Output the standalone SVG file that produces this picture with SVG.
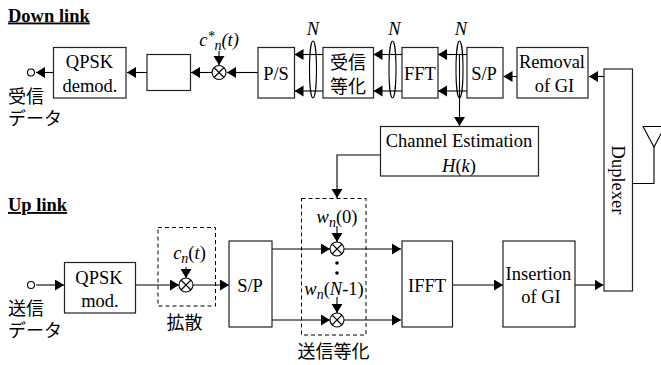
<svg xmlns="http://www.w3.org/2000/svg" width="661" height="365" viewBox="0 0 661 365">
<style>
text{font-family:"Liberation Serif","Noto Sans CJK JP",serif;font-size:18.5px;fill:#000;text-anchor:middle}
.j{font-size:18px}
.i{font-style:italic}
.s{font-size:14px}
.h{font-weight:bold;text-anchor:start;text-decoration:underline}
.b{fill:#fff;stroke:#222;stroke-width:1.2}
.l{fill:none;stroke:#000;stroke-width:1.1}
.d{fill:none;stroke:#000;stroke-width:1;stroke-dasharray:4 3}
.m{fill:#fff;stroke:#000;stroke-width:1.1}
</style>
<defs>
<marker id="a" markerUnits="userSpaceOnUse" markerWidth="10" markerHeight="12" refX="9" refY="5.5" orient="auto"><path d="M0 0L9 5.5L0 11Z" fill="#000"/></marker>
<g id="x"><circle r="7" class="m"/><path d="M-5 -5L5 5M-5 5L5 -5" class="l"/></g>
</defs>
<rect width="661" height="365" fill="#fff"/>
<text class="h" x="8" y="21.500">Down link</text>
<text class="h" x="8" y="211">Up link</text>
<g id="connectors">
<path class="l" d="M53.500 72.500H36" marker-end="url(#a)"/>
<path class="l" d="M147 72.500H127" marker-end="url(#a)"/>
<path class="l" d="M212 72.500H191" marker-end="url(#a)"/>
<path class="l" d="M258 72.500H227" marker-end="url(#a)"/>
<path class="l" d="M219 51V65" marker-end="url(#a)"/>
<path class="l" d="M323 54.500H294.500" marker-end="url(#a)"/>
<path class="l" d="M323 91H294.500" marker-end="url(#a)"/>
<path class="l" d="M402 54.500H373.500" marker-end="url(#a)"/>
<path class="l" d="M402 91H373.500" marker-end="url(#a)"/>
<path class="l" d="M467 54.500H438" marker-end="url(#a)"/>
<path class="l" d="M467 91H438" marker-end="url(#a)"/>
<path class="l" d="M517 76.500H503.500" marker-end="url(#a)"/>
<path class="l" d="M604 76.500H589" marker-end="url(#a)"/>
<path class="l" d="M459.500 54V126" marker-end="url(#a)"/>
<path class="l" d="M380 155H337V198" marker-end="url(#a)"/>
<path class="l" d="M36 285H64" marker-end="url(#a)"/>
<path class="l" d="M135.500 285H179" marker-end="url(#a)"/>
<path class="l" d="M193 285H229" marker-end="url(#a)"/>
<path class="l" d="M186 267V278" marker-end="url(#a)"/>
<path class="l" d="M272 249H330" marker-end="url(#a)"/>
<path class="l" d="M272 320H330" marker-end="url(#a)"/>
<path class="l" d="M344 249H401" marker-end="url(#a)"/>
<path class="l" d="M344 320H401" marker-end="url(#a)"/>
<path class="l" d="M337 226V242" marker-end="url(#a)"/>
<path class="l" d="M337 297V313" marker-end="url(#a)"/>
<path class="l" d="M452.500 285H503" marker-end="url(#a)"/>
<path class="l" d="M575 285H603.500" marker-end="url(#a)"/>
<path class="l" d="M632.300 183.500H654V147"/>
<path class="l" d="M665 126.500H643L654 147L665 126.500"/>
<ellipse class="l" cx="313" cy="69.500" rx="3.500" ry="28.500"/>
<ellipse class="l" cx="392.500" cy="69.500" rx="3.500" ry="28.500"/>
<ellipse class="l" cx="459.500" cy="69.500" rx="3.500" ry="28.500"/>
<rect class="d" x="158" y="227.500" width="57.500" height="78.500"/>
<rect class="d" x="301.500" y="198.500" width="64.500" height="136.500"/>
<circle cx="337" cy="263" r="1.800"/>
<circle cx="337" cy="273" r="1.800"/>
</g>
<g id="rx-out"><circle class="m" cx="31" cy="72.500" r="3.500"/><text class="j" x="8" y="103" style="text-anchor:start">受信</text><text class="j" x="8" y="125" style="text-anchor:start">データ</text></g>
<g id="qpsk-demod"><rect class="b" x="53.500" y="47.500" width="72.500" height="50.500"/><text x="89.500" y="68">QPSK</text><text x="90" y="92">demod.</text></g>
<g id="blank"><rect class="b" x="147" y="54.500" width="43.500" height="36"/></g>
<g id="mult-rx"><use href="#x" x="219" y="72.500"/><text class="i" x="219" y="46">c<tspan class="s" dy="-5">*</tspan><tspan class="s" dy="9">n</tspan><tspan dy="-4">(t)</tspan></text></g>
<g id="ps"><rect class="b" x="258" y="47.500" width="36.500" height="50.500"/><text x="276" y="80">P/S</text></g>
<g id="eq"><rect class="b" x="323" y="47.500" width="50.500" height="50.500"/><text class="j" x="348" y="69">受信</text><text class="j" x="348" y="93">等化</text></g>
<g id="fft"><rect class="b" x="402" y="47.500" width="36" height="50.500"/><text x="420" y="80">FFT</text></g>
<g id="sp-rx"><rect class="b" x="467" y="47.500" width="36" height="50.500"/><text x="484" y="80">S/P</text></g>
<g id="rm-gi"><rect class="b" x="517" y="47.500" width="71" height="50.500"/><text x="552" y="68" textLength="66">Removal</text><text x="554.500" y="92">of GI</text></g>
<g id="duplexer"><rect class="b" x="604" y="69" width="28.500" height="222"/><text transform="translate(612 180) rotate(90)">Duplexer</text></g>
<g id="chan-est"><rect class="b" x="380.500" y="126.500" width="158" height="49.500"/><text x="459" y="147">Channel Estimation</text><text x="459" y="171.500"><tspan class="i">H</tspan>(<tspan class="i">k</tspan>)</text></g>
<text class="i" x="313" y="35">N</text><text class="i" x="394.500" y="35">N</text><text class="i" x="461" y="35">N</text>
<g id="tx-in"><circle class="m" cx="31" cy="285" r="3.500"/><text class="j" x="8" y="315" style="text-anchor:start">送信</text><text class="j" x="8" y="337" style="text-anchor:start">データ</text></g>
<g id="qpsk-mod"><rect class="b" x="64.500" y="262.500" width="71" height="50.500"/><text x="99" y="284">QPSK</text><text x="100" y="306.500">mod.</text></g>
<g id="mult-spread"><use href="#x" x="186" y="285"/><text x="189.500" y="258.500"><tspan class="i">c</tspan><tspan class="i s" dy="4">n</tspan><tspan dy="-4">(</tspan><tspan class="i">t</tspan>)</text><text class="j" x="184.500" y="329">拡散</text></g>
<g id="sp-tx"><rect class="b" x="229" y="241" width="43" height="86"/><text x="250" y="292">S/P</text></g>
<g id="mult-w0"><use href="#x" x="337" y="249"/><text x="337" y="222.500"><tspan class="i">w</tspan><tspan class="i s" dy="4">n</tspan><tspan dy="-4">(0)</tspan></text></g>
<g id="mult-wn"><use href="#x" x="337" y="320"/><text x="334" y="295"><tspan class="i">w</tspan><tspan class="i s" dy="4">n</tspan><tspan dy="-4">(</tspan><tspan class="i">N</tspan>-1)</text><text class="j" x="333.500" y="358">送信等化</text></g>
<g id="ifft"><rect class="b" x="402" y="241" width="50.500" height="86"/><text x="427" y="292">IFFT</text></g>
<g id="ins-gi"><rect class="b" x="503" y="241" width="72" height="86"/><text x="538.500" y="280">Insertion</text><text x="541" y="303">of GI</text></g>
</svg>
